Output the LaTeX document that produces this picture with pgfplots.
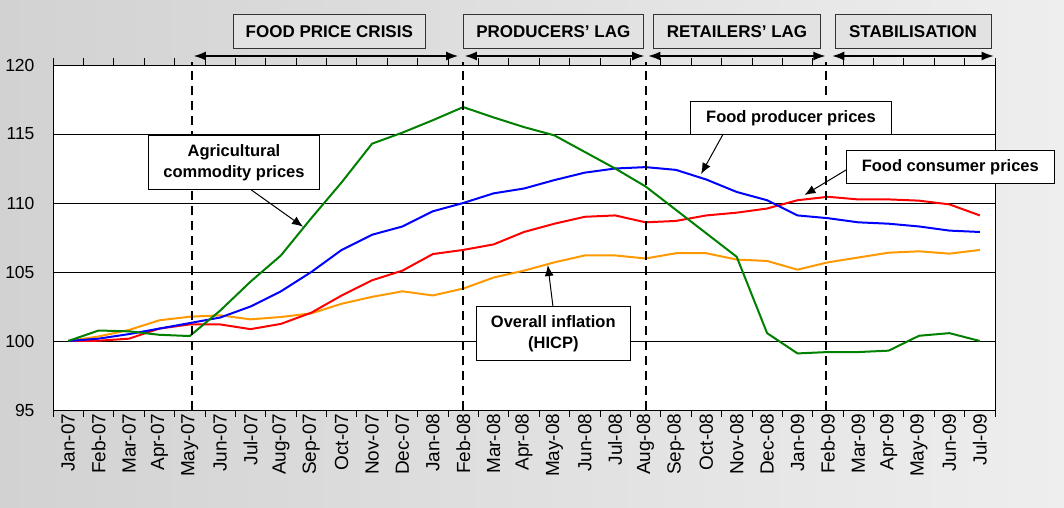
\documentclass[border=0pt]{standalone}
\usepackage{fontspec}
\setmainfont{Liberation Sans}
\usepackage{pgfplots}
\usepackage{pgfplotstable}
\pgfplotsset{compat=1.18}
\usetikzlibrary{arrows.meta}

\definecolor{cgreen}{RGB}{0,128,0}
\definecolor{cblue}{RGB}{0,0,255}
\definecolor{cred}{RGB}{255,0,0}
\definecolor{corange}{RGB}{255,153,0}
\definecolor{bgl}{RGB}{210,210,210}
\definecolor{bgr}{RGB}{238,238,238}
\definecolor{boxfill}{RGB}{226,226,226}

\pgfplotstableread{
i g b r o
0 100 100 100 100
1 100.76 100.17 100.02 100.33
2 100.7 100.5 100.17 100.8
3 100.45 100.9 100.9 101.5
4 100.36 101.3 101.2 101.76
5 102.2 101.7 101.2 101.86
6 104.3 102.5 100.86 101.57
7 106.2 103.6 101.24 101.74
8 108.9 105.0 102.05 102.0
9 111.5 106.6 103.3 102.7
10 114.3 107.7 104.4 103.2
11 115.1 108.3 105.1 103.6
12 116.0 109.4 106.3 103.3
13 116.95 110.0 106.6 103.8
14 116.2 110.7 107.0 104.6
15 115.5 111.05 107.9 105.1
16 114.9 111.66 108.5 105.7
17 113.7 112.2 109.0 106.2
18 112.5 112.5 109.1 106.2
19 111.2 112.6 108.6 105.98
20 109.5 112.4 108.7 106.36
21 107.8 111.7 109.1 106.36
22 106.1 110.8 109.3 105.9
23 100.57 110.2 109.6 105.8
24 99.1 109.1 110.2 105.17
25 99.2 108.9 110.45 105.7
26 99.2 108.6 110.26 106.05
27 99.3 108.5 110.26 106.4
28 100.38 108.3 110.17 106.5
29 100.57 108.0 109.9 106.33
30 100.0 107.9 109.1 106.6
}\data

\begin{document}
\begin{tikzpicture}[x=1pt,y=1pt]
\shade[left color=bgl, right color=bgr] (0,0) rectangle (1064,507);
\begin{axis}[
  at={(53pt,97pt)}, anchor=south west,
  scale only axis, width=942pt, height=345pt,
  xmin=-0.5, xmax=30.5, ymin=95, ymax=120,
  axis background/.style={fill=white},
  axis line style={black, line width=0.8pt},
  xtick={-0.5,0.5,...,30.5}, xticklabels={},
  major tick length=7pt, tick align=outside,
  xtick style={black, line width=0.8pt},
  extra x ticks={0,1,...,30},
  extra x tick labels={Jan-07,Feb-07,Mar-07,Apr-07,May-07,Jun-07,Jul-07,Aug-07,Sep-07,Oct-07,Nov-07,Dec-07,Jan-08,Feb-08,Mar-08,Apr-08,May-08,Jun-08,Jul-08,Aug-08,Sep-08,Oct-08,Nov-08,Dec-08,Jan-09,Feb-09,Mar-09,Apr-09,May-09,Jun-09,Jul-09},
  extra x tick style={major tick length=0pt},
  xticklabel style={rotate=90, anchor=east, font=\fontsize{19}{21}\selectfont, yshift=0pt},
  ytick={95,100,...,120},
  ytick style={draw=none},
  ymajorgrids, major grid style={black, line width=0.8pt},
  yticklabel style={font=\fontsize{17.5}{20}\selectfont, /pgf/number format/assume math mode=true, xshift=-8pt},
  clip=false,
]
\addplot[corange, line width=2pt] table[x=i, y=o] {\data};
\addplot[cred, line width=2pt] table[x=i, y=r] {\data};
\addplot[cblue, line width=2pt] table[x=i, y=b] {\data};
\addplot[cgreen, line width=2pt] table[x=i, y=g] {\data};
\foreach \v in {4.08,13,19.03,24.93}{
  \edef\tmp{\noexpand\draw[black, line width=2pt, dash pattern=on 9pt off 6pt] (axis cs:\v,95) -- (axis cs:\v,120.2);}
  \tmp
}
\end{axis}
% top phase boxes
\tikzset{phase/.style={draw=black!80, line width=0.8pt, fill=boxfill, inner sep=0pt, minimum height=33.6pt, font=\fontsize{17}{20}\selectfont\bfseries},
  callout/.style={draw=black, line width=0.8pt, fill=white, inner sep=0pt, align=center, font=\fontsize{16.5}{21}\selectfont\bfseries},
  ptr/.style={-{Latex[length=11pt,width=9pt]}, line width=1pt},
  dbl/.style={{Latex[length=12pt,width=9pt]}-{Latex[length=12pt,width=9pt]}, line width=1.2pt}}
\node[phase, minimum width=191.5pt] at (329.3,475.5) {FOOD PRICE CRISIS};
\node[phase, minimum width=180.5pt] at (553.3,475.5) {PRODUCERS’ LAG};
\node[phase, minimum width=167pt] at (737,475.5) {RETAILERS’ LAG};
\node[phase, minimum width=156pt] at (913,475.5) {STABILISATION};
\draw[dbl] (193.9,451) -- (458,451);
\draw[dbl] (464.9,451) -- (644.2,451);
\draw[dbl] (648.4,451) -- (825.3,451);
\draw[dbl] (832.3,451) -- (993.6,451);
% callouts
\node[callout, minimum width=170.4pt, minimum height=54pt] at (234,344.7) {Agricultural\\commodity prices};
\draw[ptr] (251.4,317) -- (303,280.3);
\node[callout, minimum width=200.6pt, minimum height=32.6pt] at (791,389) {Food producer prices};
\draw[ptr] (723,372.7) -- (701.1,333);
\node[callout, minimum width=208.2pt, minimum height=32.3pt] at (950.3,340.2) {Food consumer prices};
\draw[ptr] (846,337) -- (804.5,312);
\node[callout, minimum width=154.1pt, minimum height=53.3pt] at (553.3,173.7) {Overall inflation\\(HICP)};
\draw[ptr] (553,200.3) -- (547.8,242);
\end{tikzpicture}
\end{document}
